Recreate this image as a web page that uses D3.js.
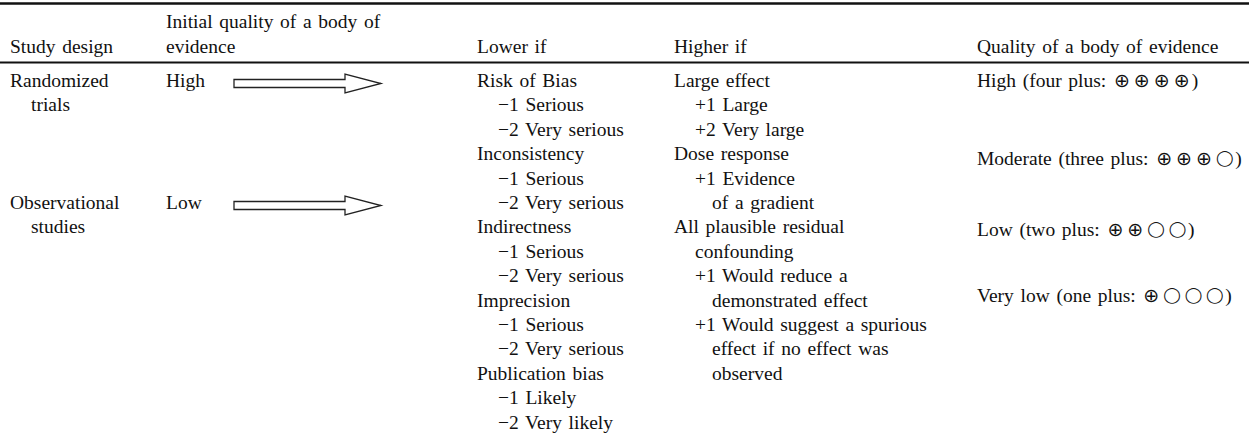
<!DOCTYPE html>
<html>
<head>
<meta charset="utf-8">
<script src="https://cdn.jsdelivr.net/npm/d3@7"></script>
<style>
  html, body { margin: 0; padding: 0; background: #fff; }
  svg { display: block; }
  text { font-family: "Liberation Serif", "Times New Roman", "DejaVu Serif", serif; font-size: 19.5px; fill: #111; word-spacing: 1.8px; }
  .plus { font-family: "DejaVu Sans", sans-serif; font-size: 19px; }
  .ring { font-family: "DejaVu Sans", sans-serif; font-size: 15.5px; }
</style>
</head>
<body>
<svg id="chart"></svg>
<script>
// header cells: [column, text, headerLine]
const headers = [
  [0, "Study design", 1],
  [1, "Initial quality of a body of", 0],
  [1, "evidence", 1],
  [2, "Lower if", 1],
  [3, "Higher if", 1],
  [4, "Quality of a body of evidence", 1],
];

// body cells per column: [text, row, indent]
const studyDesign = [
  ["Randomized", 0, 0], ["trials", 1, 1],
  ["Observational", 5, 0], ["studies", 6, 1],
];
const initialQuality = [["High", 0, 0], ["Low", 5, 0]];
const lowerIf = [
  ["Risk of Bias", 0, 0], ["\u22121 Serious", 1, 1], ["\u22122 Very serious", 2, 1],
  ["Inconsistency", 3, 0], ["\u22121 Serious", 4, 1], ["\u22122 Very serious", 5, 1],
  ["Indirectness", 6, 0], ["\u22121 Serious", 7, 1], ["\u22122 Very serious", 8, 1],
  ["Imprecision", 9, 0], ["\u22121 Serious", 10, 1], ["\u22122 Very serious", 11, 1],
  ["Publication bias", 12, 0], ["\u22121 Likely", 13, 1], ["\u22122 Very likely", 14, 1],
];
const higherIf = [
  ["Large effect", 0, 0], ["+1 Large", 1, 1], ["+2 Very large", 2, 1],
  ["Dose response", 3, 0], ["+1 Evidence", 4, 1], ["of a gradient", 5, 2],
  ["All plausible residual", 6, 0], ["confounding", 7, 1],
  ["+1 Would reduce a", 8, 1], ["demonstrated effect", 9, 2],
  ["+1 Would suggest a spurious", 10, 1], ["effect if no effect was", 11, 2],
  ["observed", 12, 2],
];
const qualityLevels = [
  ["High (four plus: \u2295\u2295\u2295\u2295)", 0, 0],
  ["Moderate (three plus: \u2295\u2295\u2295\u25EF)", 3.2, 0],
  ["Low (two plus: \u2295\u2295\u25EF\u25EF)", 6.1, 0],
  ["Very low (one plus: \u2295\u25EF\u25EF\u25EF)", 8.8, 0],
];
// arrows from initial quality, by row
const arrowRows = [0, 5];

const width = 1249, height = 438;
const svg = d3.select("#chart").attr("width", width).attr("height", height);

const colX = [10, 166, 477, 674, 977];
const indentX = [0, 21, 38];
const rowY = d3.scaleLinear().domain([0, 1]).range([87, 111.4]);
const headY = d3.scaleLinear().domain([0, 1]).range([27.5, 52.5]);

// rules
svg.append("line").attr("x1", 0).attr("x2", width).attr("y1", 3.5).attr("y2", 3.5)
  .attr("stroke", "#111").attr("stroke-width", 2.4);
svg.append("line").attr("x1", 0).attr("x2", width).attr("y1", 62.5).attr("y2", 62.5)
  .attr("stroke", "#111").attr("stroke-width", 2);

svg.append("g").selectAll("text").data(headers).join("text")
  .attr("x", d => colX[d[0]]).attr("y", d => headY(d[2])).text(d => d[1]);

const symClass = { "\u2295": "plus", "\u25EF": "ring" };
const ringLift = 2;

const columns = [studyDesign, initialQuality, lowerIf, higherIf, qualityLevels];
columns.forEach((cells, c) => {
  svg.append("g").selectAll("text").data(cells).join("text")
    .attr("x", d => colX[c] + indentX[d[2]])
    .attr("y", d => rowY(d[1]))
    .each(function (d) {
      const t = d3.select(this);
      // split into plain runs and symbol glyphs
      const parts = d[0].match(/[\u2295\u25EF]|[^\u2295\u25EF]+/g);
      let prevSym = false, lifted = 0;
      parts.forEach(p => {
        const lift = p === "\u25EF" ? ringLift : 0;
        const sp = t.append("tspan").attr("dy", lifted - lift);
        lifted = lift;
        if (symClass[p]) {
          sp.attr("class", symClass[p])
            .attr("dx", prevSym ? (p === "\u25EF" ? 4 : 4) : 1)
            .text(p);
          prevSym = true;
        } else {
          sp.attr("dx", prevSym ? 2 : 0).text(p);
          prevSym = false;
        }
      });
    });
});

// hollow arrows
const ax = d3.scaleLinear().domain([0, 1]).range([234, 381]);
svg.append("g").selectAll("path").data(arrowRows).join("path")
  .attr("d", r => {
    const cy = rowY(r) - 3.5;
    const x0 = ax(0), x1 = ax(1), xh = x1 - 36;
    return d3.line()([
      [x0, cy - 4], [xh, cy - 4], [xh, cy - 9.5], [x1, cy],
      [xh, cy + 9.5], [xh, cy + 4], [x0, cy + 4]
    ]) + "Z";
  })
  .attr("fill", "#fff").attr("stroke", "#222").attr("stroke-width", 1.3)
  .attr("stroke-linejoin", "miter");
</script>
</body>
</html>
